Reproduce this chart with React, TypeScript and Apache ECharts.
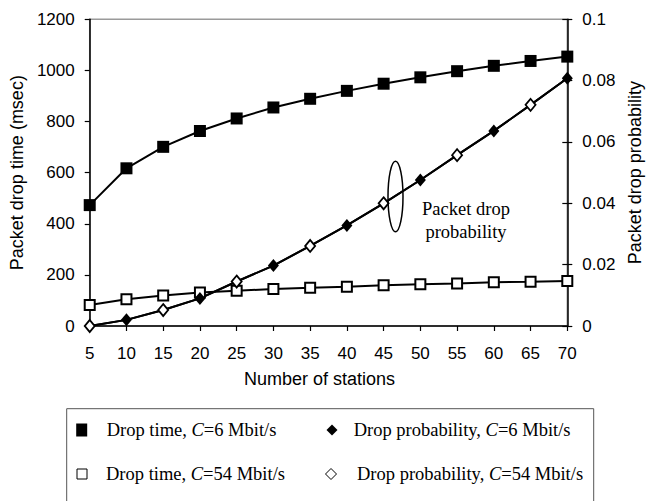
import React, { useEffect, useRef } from 'react';
import * as echarts from 'echarts';

const stations = [5, 10, 15, 20, 25, 30, 35, 40, 45, 50, 55, 60, 65, 70];
const dropTime6 = [473, 617, 701, 763, 812, 855, 889, 920, 948, 973, 997, 1018, 1037, 1054];
const dropTime54 = [82, 105, 119, 131, 138, 145, 150, 154, 159, 163, 166, 171, 173, 176];
const dropProb6 = [0, 0.002, 0.0052, 0.009, 0.0145, 0.0197, 0.0261, 0.0328, 0.04, 0.0476, 0.0557, 0.0636, 0.0721, 0.0808];
const dropProb54 = [0, 0.002, 0.0052, 0.009, 0.0145, 0.0197, 0.0261, 0.0328, 0.04, 0.0476, 0.0557, 0.0636, 0.0721, 0.0808];
const timeTicks = [0, 200, 400, 600, 800, 1000, 1200];
const probTicks = [0, 0.02, 0.04, 0.06, 0.08, 0.1];

const SANS = '"Liberation Sans", Arial, sans-serif';
const SERIF = '"Liberation Serif", "Times New Roman", serif';

const legendRich = {
  n: { fontFamily: SERIF, fontSize: 18.5, fill: '#000' },
  i: { fontFamily: SERIF, fontSize: 18.5, fontStyle: 'italic', fill: '#000' },
};

export default function App() {
  const ref = useRef<HTMLDivElement>(null);
  useEffect(() => {
    if (!ref.current) return;
    const chart = echarts.init(ref.current, undefined, { renderer: 'svg' });
    const pair = (ys: number[]) => stations.map((x, i) => [x, ys[i]]);
    const labelStyle = { color: '#000', fontFamily: SANS, fontSize: 17 };
    const plain = (v: number) => String(v);
    chart.setOption({
      animation: false,
      backgroundColor: '#fff',
      grid: {
        left: 84.3, right: 96.7, top: 19.3, bottom: 175,
        show: true, borderColor: '#9a9a9a', borderWidth: 1.5, backgroundColor: 'transparent',
      },
      xAxis: {
        type: 'value', min: stations[0], max: stations[stations.length - 1], interval: 5,
        name: 'Number of stations', nameLocation: 'middle', nameGap: 44,
        nameTextStyle: { color: '#000', fontFamily: SANS, fontSize: 18, padding: [0, 18, 0, 0] },
        axisLine: { lineStyle: { color: '#000', width: 1.5 } },
        axisTick: { show: true, length: 5, lineStyle: { color: '#000', width: 1.2 } },
        axisLabel: { ...labelStyle, margin: 19, formatter: plain },
        splitLine: { show: false },
      },
      yAxis: [
        {
          type: 'value', position: 'left', min: timeTicks[0], max: timeTicks[timeTicks.length - 1],
          interval: timeTicks[1] - timeTicks[0],
          name: 'Packet drop time (msec)', nameLocation: 'middle', nameGap: 48, nameRotate: 90,
          nameTextStyle: { color: '#000', fontFamily: SANS, fontSize: 18 },
          axisLine: { show: true, lineStyle: { color: '#000', width: 1.5 } },
          axisTick: { show: true, length: 5, lineStyle: { color: '#000', width: 1.2 } },
          axisLabel: { ...labelStyle, margin: 15, formatter: plain },
          splitLine: { show: false },
        },
        {
          type: 'value', position: 'right', min: probTicks[0], max: probTicks[probTicks.length - 1],
          interval: probTicks[1] - probTicks[0],
          name: 'Packet drop probability', nameLocation: 'middle', nameGap: 58, nameRotate: 90,
          nameTextStyle: { color: '#000', fontFamily: SANS, fontSize: 18 },
          axisLine: { show: true, lineStyle: { color: '#000', width: 1.5 } },
          axisTick: { show: true, length: 5, lineStyle: { color: '#000', width: 1.2 } },
          axisLabel: { ...labelStyle, margin: 15 },
          splitLine: { show: false },
        },
        {
          type: 'value', position: 'right', min: probTicks[0], max: probTicks[probTicks.length - 1],
          interval: probTicks[1] - probTicks[0],
          axisLine: { show: false },
          axisTick: { show: true, inside: true, length: 5, lineStyle: { color: '#000', width: 1.2 } },
          axisLabel: { show: false },
          splitLine: { show: false },
        },
      ],
      series: [
        {
          name: 'Drop time, C=6 Mbit/s', type: 'line', yAxisIndex: 0, data: pair(dropTime6),
          symbol: 'rect', symbolSize: 12, showAllSymbol: true,
          lineStyle: { color: '#000', width: 2 },
          itemStyle: { color: '#000', borderWidth: 0 },
        },
        {
          name: 'Drop time, C=54 Mbit/s', type: 'line', yAxisIndex: 0, data: pair(dropTime54),
          symbol: 'rect', symbolSize: 10, showAllSymbol: true,
          lineStyle: { color: '#000', width: 2 },
          itemStyle: { color: '#fff', borderColor: '#000', borderWidth: 2 },
        },
        {
          name: 'Drop probability, C=6 Mbit/s', type: 'line', yAxisIndex: 1, data: pair(dropProb6),
          symbol: 'diamond', showAllSymbol: true,
          symbolSize: (_v: any, p: any) => (p.dataIndex % 2 === 1 ? [11, 13] : 0),
          lineStyle: { color: '#000', width: 2 },
          itemStyle: { color: '#000', borderWidth: 0 },
        },
        {
          name: 'Drop probability, C=54 Mbit/s', type: 'line', yAxisIndex: 1, data: pair(dropProb54),
          symbol: 'diamond', showAllSymbol: true,
          symbolSize: (_v: any, p: any) => (p.dataIndex % 2 === 0 ? [10, 12] : 0),
          lineStyle: { color: '#000', width: 2 },
          itemStyle: { color: '#fff', borderColor: '#000', borderWidth: 1.8 },
        },
      ],
      graphic: [
        {
          type: 'ellipse', shape: { cx: 395.5, cy: 196.5, rx: 7.5, ry: 35.3 },
          style: { fill: 'none', stroke: '#000', lineWidth: 1.5 }, z: 10,
        },
        {
          type: 'text', x: 466, y: 220.5, z: 10,
          style: {
            text: 'Packet drop\nprobability', fontFamily: SERIF, fontSize: 18.5, lineHeight: 23,
            fill: '#000', align: 'center', verticalAlign: 'middle',
          },
        },
        {
          type: 'rect', shape: { x: 66.7, y: 408.7, width: 527, height: 120 },
          style: { fill: 'none', stroke: '#555', lineWidth: 1 },
        },
        { type: 'rect', shape: { x: 76.2, y: 423.5, width: 11, height: 13 }, style: { fill: '#000' } },
        {
          type: 'text', x: 106.7, y: 430,
          style: { text: '{n|Drop time, }{i|C}{n|=6 Mbit/s}', rich: legendRich, verticalAlign: 'middle' },
        },
        {
          type: 'polygon', shape: { points: [[332, 424.5], [337.5, 430], [332, 435.5], [326.5, 430]] },
          style: { fill: '#000' },
        },
        {
          type: 'text', x: 353.7, y: 430,
          style: { text: '{n|Drop probability, }{i|C}{n|=6 Mbit/s}', rich: legendRich, verticalAlign: 'middle' },
        },
        {
          type: 'rect', shape: { x: 77, y: 469, width: 10, height: 10 },
          style: { fill: '#fff', stroke: '#000', lineWidth: 1 },
        },
        {
          type: 'text', x: 106, y: 474,
          style: { text: '{n|Drop time, }{i|C}{n|=54 Mbit/s}', rich: legendRich, verticalAlign: 'middle' },
        },
        {
          type: 'polygon', shape: { points: [[331, 468.5], [336.5, 474], [331, 479.5], [325.5, 474]] },
          style: { fill: '#fff', stroke: '#000', lineWidth: 1 },
        },
        {
          type: 'text', x: 357, y: 474,
          style: { text: '{n|Drop probability, }{i|C}{n|=54 Mbit/s}', rich: legendRich, verticalAlign: 'middle' },
        },
      ],
    });
    return () => chart.dispose();
  }, []);
  return <div ref={ref} style={{ position: 'fixed', left: 0, top: 0, width: 664, height: 501, background: '#fff' }} />;
}
